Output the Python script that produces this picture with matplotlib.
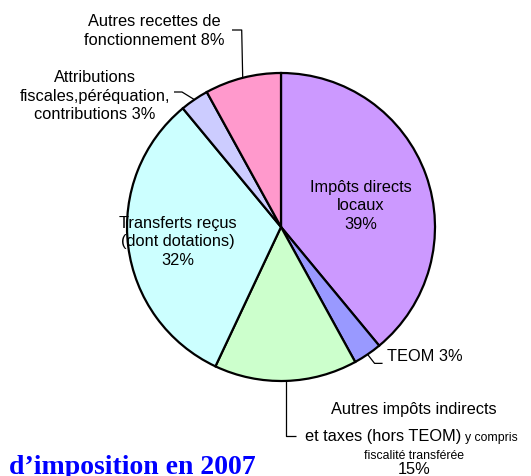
import matplotlib
matplotlib.use('Agg')
import matplotlib.pyplot as plt
import numpy as np

# ---- data ----
slice_names = ["Impôts directs locaux", "TEOM",
               "Autres impôts indirects et taxes (hors TEOM) y compris fiscalité transférée",
               "Transferts reçus (dont dotations)",
               "Attributions fiscales,péréquation, contributions",
               "Autres recettes de fonctionnement"]
values = [39, 3, 15, 32, 3, 8]
colors = ['#CC99FF', '#9999FF', '#CCFFCC', '#CCFFFF', '#CCCCFF', '#FF99CC']
title_text = "d’imposition en 2007"

W, H = 531, 477
fig = plt.figure(figsize=(W / 100, H / 100), dpi=100)
ax = fig.add_axes([0, 0, 1, 1])

def P(x, y):
    return (x, H - y)

cx, cy, r = 281, 228, 154
ax.pie(values, colors=colors, startangle=90, counterclock=False,
       center=P(cx, cy), radius=r,
       wedgeprops=dict(edgecolor='black', linewidth=1.6), frame=False)
ax.set_xlim(0, W)
ax.set_ylim(0, H)
ax.set_aspect('equal')
ax.axis('off')

# mid angles (degrees, math convention) from the data
tot = sum(values)
cum = np.cumsum([0] + values)
mids = [90 - (cum[i] + values[i] / 2) / tot * 360 for i in range(len(values))]

def edge(i):
    a = np.deg2rad(mids[i])
    return (cx + r * np.cos(a), cy - r * np.sin(a))

FS = 11.8
SF = 8.8
font = 'Liberation Sans'

def line(pts):
    xs = [p[0] for p in pts]
    ys = [H - p[1] for p in pts]
    ax.plot(xs, ys, color='black', lw=0.9, solid_capstyle='butt')

# Impôts directs locaux
ax.text(*P(361, 206), f"Impôts directs\nlocaux\n{values[0]}%", ha='center', va='center',
        fontsize=FS, family=font, linespacing=1.3)
# Transferts reçus
ax.text(*P(178, 242), f"Transferts reçus\n(dont dotations)\n{values[3]}%", ha='center', va='center',
        fontsize=FS, family=font, linespacing=1.3)

# TEOM
ex, ey = edge(1)
line([(ex, ey), (ex + 7, ey + 9), (ex + 15, ey + 9)])
ax.text(*P(ex + 19, 357), f"TEOM {values[1]}%", ha='left', va='center', fontsize=FS, family=font)

# Autres impôts indirects
ex, ey = edge(2)
line([(ex, ey), (ex, 437), (ex + 10, 437)])
ax.text(*P(414, 410), "Autres impôts indirects", ha='center', va='center', fontsize=FS, family=font)
ax.text(*P(461, 437), "et taxes (hors TEOM)", ha='right', va='center', fontsize=FS, family=font)
ax.text(*P(465, 438.5), "y compris", ha='left', va='center', fontsize=SF, family=font)
ax.text(*P(414, 456), "fiscalité transférée", ha='center', va='center', fontsize=SF, family=font)
ax.text(*P(414, 470), f"{values[2]}%", ha='center', va='center', fontsize=FS, family=font)

# Attributions
ex, ey = edge(4)
line([(174, 93), (182, 93), (ex, ey)])
ax.text(*P(95, 96), f"Attributions\nfiscales,péréquation,\ncontributions {values[4]}%",
        ha='center', va='center', fontsize=FS, family=font, linespacing=1.3)

# Autres recettes
ex, ey = edge(5)
line([(232, 31), (ex - 1, 31), (ex, ey)])
ax.text(*P(154, 31), f"Autres recettes de\nfonctionnement {values[5]}%",
        ha='center', va='center', fontsize=FS, family=font, linespacing=1.3)

# Title fragment
ax.text(*P(256, 474), title_text, ha='right', va='baseline', fontsize=20,
        family='Liberation Serif', fontweight='bold', color='#0000FF')

fig.savefig('out.png', dpi=100)
